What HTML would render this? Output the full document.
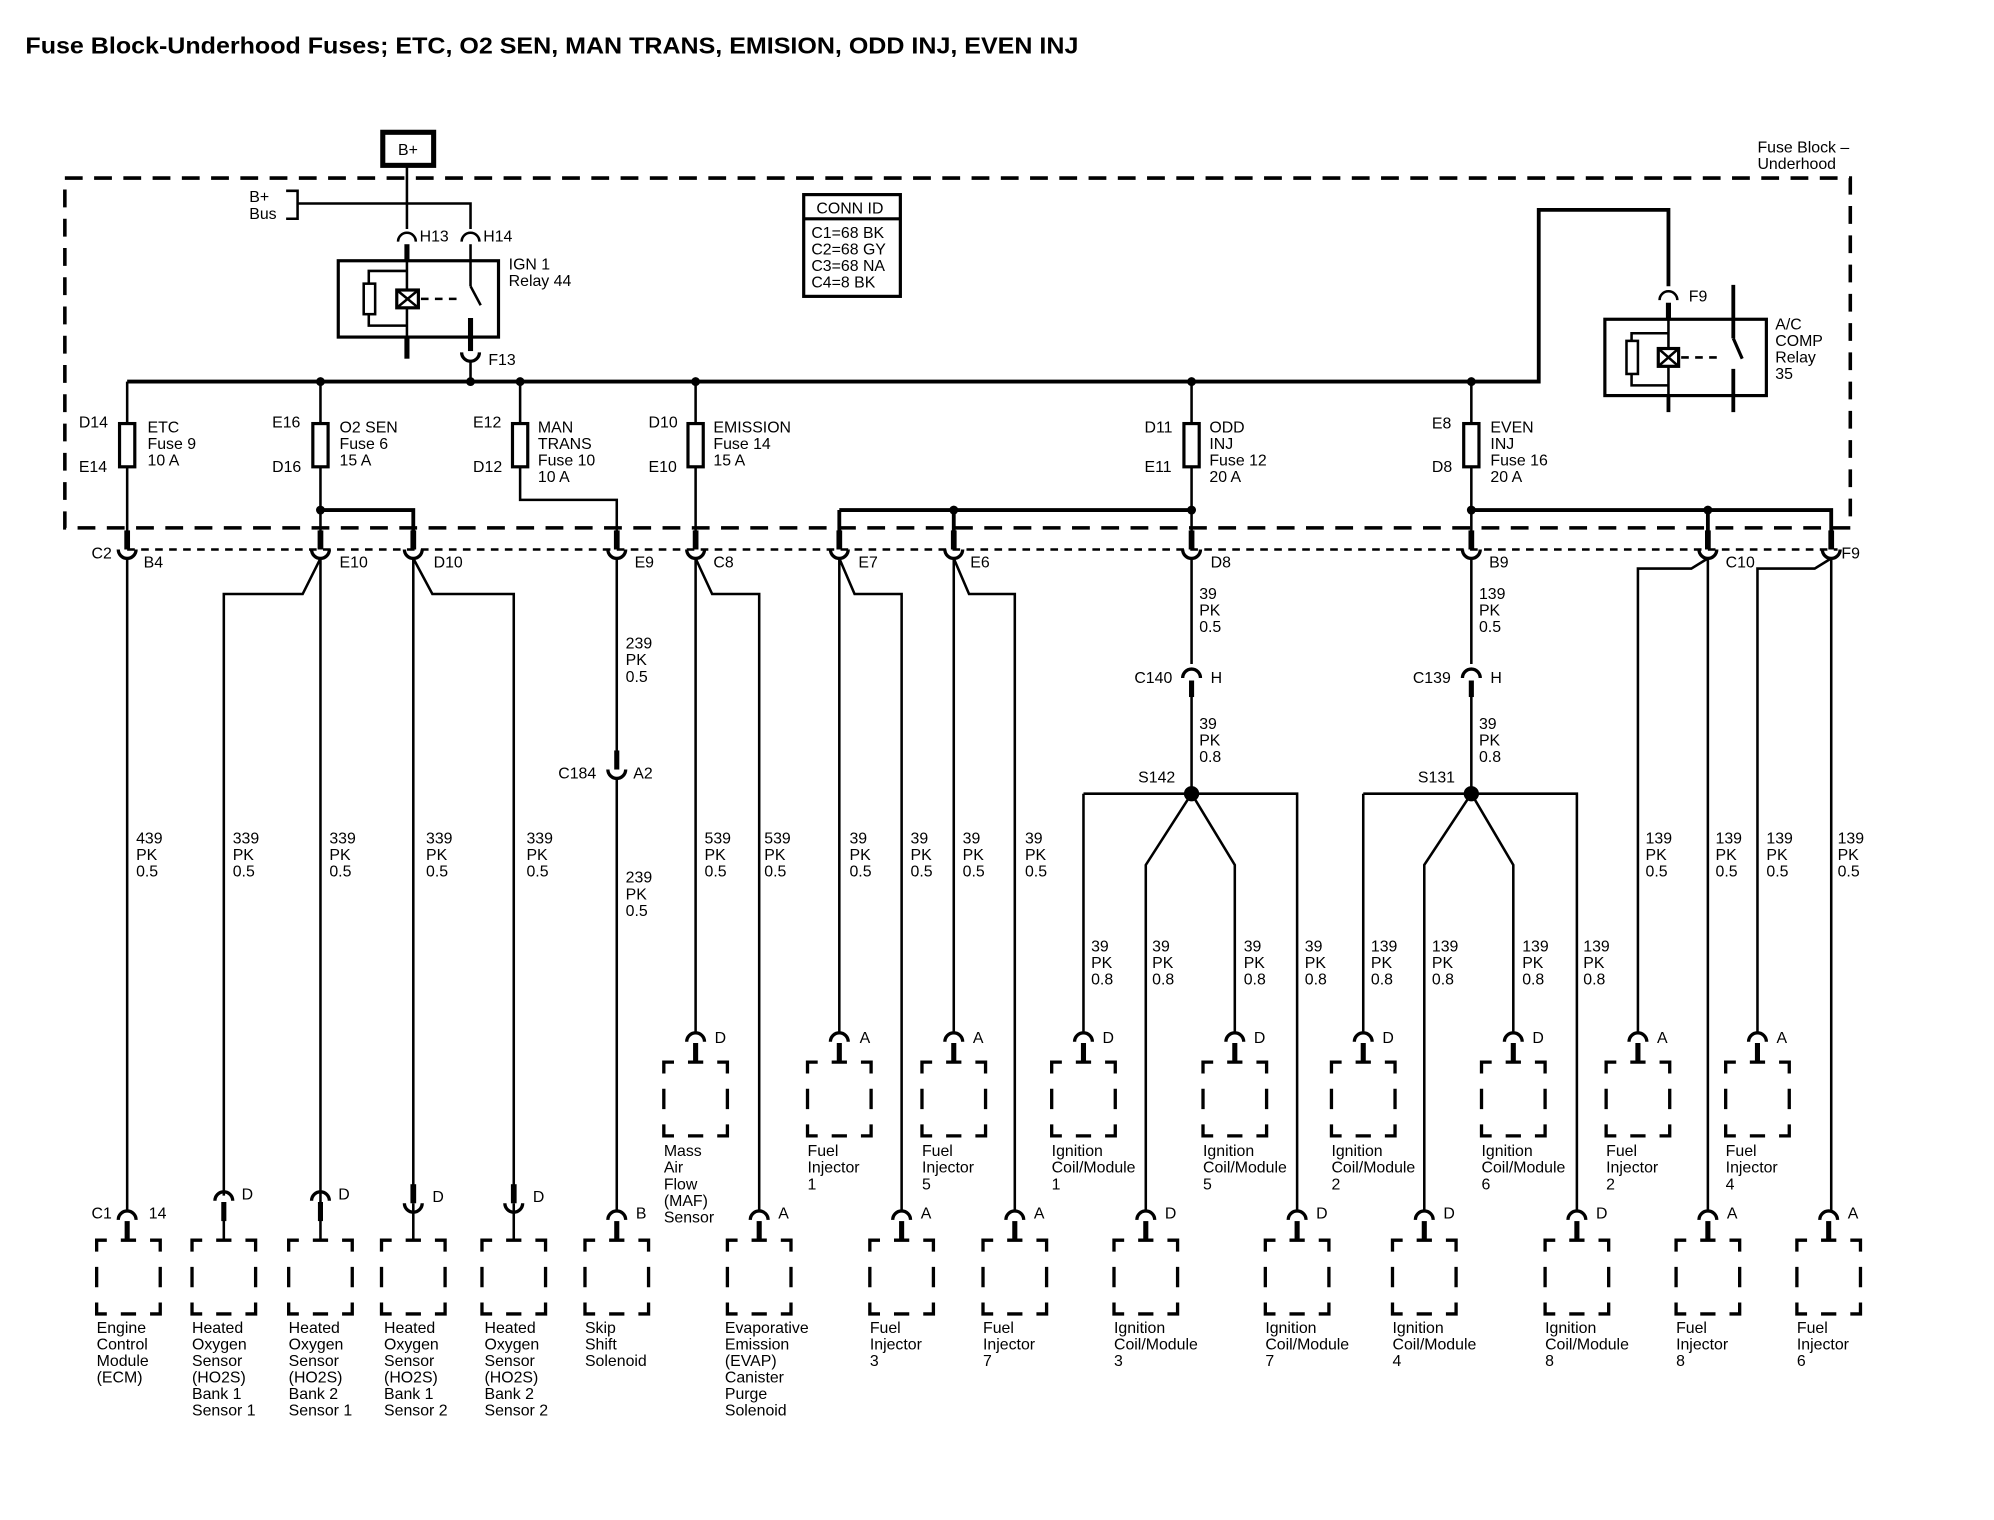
<!DOCTYPE html>
<html><head><meta charset="utf-8"><style>
html,body{margin:0;padding:0;background:#fff;}
svg{display:block;}
text{font-family:"Liberation Sans",sans-serif;font-size:12.5px;fill:#000;}
</style></head><body>
<svg width="1994" height="1520" viewBox="0 0 1568 1195" preserveAspectRatio="none" xmlns="http://www.w3.org/2000/svg">
<defs>
<symbol id="bx" overflow="visible"><path d="M0,9V0H8M19,0H31M42,0H50V9M0,21V37M50,21V37M0,49V58H8M19,58H31M42,58H50V49" fill="none" stroke="#000" stroke-width="2.6"/></symbol>
<symbol id="ca" overflow="visible"><path d="M-7,7A7,7 0 0 1 7,7" fill="none" stroke="#000" stroke-width="2.6"/><line x1="0" y1="8" x2="0" y2="23" stroke="#000" stroke-width="4"/></symbol>
<symbol id="cu" overflow="visible"><path d="M-7,0A7,7 0 0 0 7,0" fill="none" stroke="#000" stroke-width="2.6"/><line x1="0" y1="-15" x2="0" y2="0" stroke="#000" stroke-width="4.5"/></symbol>
</defs>
<text x="20" y="42" font-weight="bold" style="font-size:18px" textLength="828" lengthAdjust="spacingAndGlyphs">Fuse Block-Underhood Fuses; ETC, O2 SEN, MAN TRANS, EMISION, ODD INJ, EVEN INJ</text>

<g stroke="#000" fill="none" stroke-width="2">
<rect x="51" y="140" width="1404" height="275" stroke-width="2.8" stroke-dasharray="14 9"/>
<rect x="301" y="104" width="40" height="26" stroke-width="4"/>
<path d="M225,150H234V172H225M234,160H370V180M320,130V180"/>
<path d="M313,190A7,7 0 0 1 327,190M363,190A7,7 0 0 1 377,190"/>
<line x1="320" y1="192" x2="320" y2="206" stroke-width="4"/>
<line x1="370" y1="192" x2="370" y2="225" stroke-width="2"/>
<rect x="266" y="205" width="126" height="60" stroke-width="2.5"/>
<path d="M320,206V264M320,213H290V256H320"/>
<rect x="286" y="223" width="9" height="24" stroke-width="2" fill="#fff"/>
<rect x="312" y="228" width="17" height="14" stroke-width="2.5" fill="#fff"/>
<path d="M312,228L329,242M329,228L312,242" stroke-width="2"/>
<path d="M331,235H360" stroke-dasharray="6 5"/>
<path d="M370,225L378,240"/>
<line x1="320" y1="264" x2="320" y2="282" stroke-width="4"/>
<line x1="370" y1="250" x2="370" y2="276" stroke-width="4"/>
<path d="M363,277A7,7 0 0 0 377,277" stroke-width="2.6"/>
<path d="M370,284V300"/>
<path d="M100,300H1210V165H1312V225" stroke-width="3"/>
<circle cx="252" cy="300" r="2.5" fill="#000"/><circle cx="370" cy="300" r="2.5" fill="#000"/><circle cx="409" cy="300" r="2.5" fill="#000"/><circle cx="547" cy="300" r="2.5" fill="#000"/><circle cx="937" cy="300" r="2.5" fill="#000"/><circle cx="1157" cy="300" r="2.5" fill="#000"/>
<path d="M1305,236A7,7 0 0 1 1319,236"/>
<line x1="1312" y1="238" x2="1312" y2="252" stroke-width="4"/>
<rect x="1262" y="251" width="127" height="60" stroke-width="2.5"/>
<path d="M1312,252V322M1312,262H1283V303H1312"/>
<rect x="1279" y="268" width="9" height="26" fill="#fff"/>
<rect x="1304" y="274" width="16" height="14" stroke-width="2.5" fill="#fff"/>
<path d="M1304,274L1320,288M1320,274L1304,288"/>
<path d="M1322,281H1355" stroke-dasharray="6 5"/>
<line x1="1363" y1="224" x2="1363" y2="266" stroke-width="3"/><path d="M1363,266L1370,282" stroke-width="2.5"/>
<line x1="1363" y1="290" x2="1363" y2="324" stroke-width="3"/>
<line x1="1312" y1="311" x2="1312" y2="324" stroke-width="3"/>
<rect x="632" y="153" width="76" height="80" stroke-width="2.5"/><line x1="632" y1="172" x2="708" y2="172" stroke-width="2.5"/>
<path d="M100,300V430M252,300V430M409,300V393H485V430M547,300V430M937,300V430M1157,300V430"/>
<path d="M252,401H325V430M660,401H937M1157,401H1440V430M660,401V430M750,401V430M1343,401V430" stroke-width="3"/>
<circle cx="252" cy="401" r="2.5" fill="#000"/><circle cx="750" cy="401" r="2.5" fill="#000"/><circle cx="937" cy="401" r="2.5" fill="#000"/><circle cx="1157" cy="401" r="2.5" fill="#000"/><circle cx="1343" cy="401" r="2.5" fill="#000"/>
<g fill="#fff" stroke-width="2.5">
<rect x="94" y="333" width="12" height="34"/><rect x="246" y="333" width="12" height="34"/><rect x="403" y="333" width="12" height="34"/><rect x="541" y="333" width="12" height="34"/><rect x="931" y="333" width="12" height="34"/><rect x="1151" y="333" width="12" height="34"/>
</g>
<line x1="100" y1="432" x2="1445" y2="432" stroke-dasharray="6 5"/>
<path d="M100,439V952"/>
<path d="M252,439L238,467H176V940M252,439V945"/>
<path d="M325,439V935M325,439L340,467H404V935"/>
<path d="M485,439V590M485,612V952"/>
<path d="M547,439V812M547,439L560,467H597V952"/>
<path d="M660,439V812M660,439L672,467H709V952"/>
<path d="M750,439V812M750,439L762,467H798V952"/>
<path d="M937,439V522M937,540V624M852,624H1020V952M852,624V812M937,624L901,680V952M937,624L971,680V812"/>
<path d="M1157,439V522M1157,540V624M1072,624H1240V952M1072,624V812M1157,624L1120,680V952M1157,624L1190,680V812"/>
<path d="M1343,439V952M1343,439L1330,447H1288V812"/>
<path d="M1440,439V952M1440,439L1427,447H1382V812"/>
<circle cx="937" cy="624" r="5" fill="#000"/><circle cx="1157" cy="624" r="5" fill="#000"/>
<path d="M930,533A7,7 0 0 1 944,533M1150,533A7,7 0 0 1 1164,533" stroke-width="2.6"/>
<line x1="937" y1="535" x2="937" y2="548" stroke-width="4"/><line x1="1157" y1="535" x2="1157" y2="548" stroke-width="4"/>
<path d="M478,605A7,7 0 0 0 492,605" stroke-width="2.6"/><line x1="485" y1="590" x2="485" y2="605" stroke-width="4"/>
</g>
<use href="#cu" x="100" y="432"/><use href="#cu" x="252" y="432"/><use href="#cu" x="325" y="432"/><use href="#cu" x="485" y="432"/><use href="#cu" x="547" y="432"/><use href="#cu" x="660" y="432"/><use href="#cu" x="750" y="432"/><use href="#cu" x="937" y="432"/><use href="#cu" x="1157" y="432"/><use href="#cu" x="1343" y="432"/><use href="#cu" x="1440" y="432"/>
<g>
<use href="#ca" x="547" y="812"/><use href="#bx" x="522" y="835"/>
<use href="#ca" x="660" y="812"/><use href="#bx" x="635" y="835"/>
<use href="#ca" x="750" y="812"/><use href="#bx" x="725" y="835"/>
<use href="#ca" x="852" y="812"/><use href="#bx" x="827" y="835"/>
<use href="#ca" x="971" y="812"/><use href="#bx" x="946" y="835"/>
<use href="#ca" x="1072" y="812"/><use href="#bx" x="1047" y="835"/>
<use href="#ca" x="1190" y="812"/><use href="#bx" x="1165" y="835"/>
<use href="#ca" x="1288" y="812"/><use href="#bx" x="1263" y="835"/>
<use href="#ca" x="1382" y="812"/><use href="#bx" x="1357" y="835"/>
</g>
<g>
<use href="#ca" x="100" y="952"/><use href="#bx" x="76" y="975"/>
<use href="#ca" x="176" y="937"/><use href="#bx" x="151" y="975"/>
<use href="#ca" x="252" y="937"/><use href="#bx" x="227" y="975"/>
<use href="#cu" x="325" y="946"/><use href="#bx" x="300" y="975"/>
<use href="#cu" x="404" y="946"/><use href="#bx" x="379" y="975"/>
<use href="#ca" x="485" y="952"/><use href="#bx" x="460" y="975"/>
<use href="#ca" x="597" y="952"/><use href="#bx" x="572" y="975"/>
<use href="#ca" x="709" y="952"/><use href="#bx" x="684" y="975"/>
<use href="#ca" x="798" y="952"/><use href="#bx" x="773" y="975"/>
<use href="#ca" x="901" y="952"/><use href="#bx" x="876" y="975"/>
<use href="#ca" x="1020" y="952"/><use href="#bx" x="995" y="975"/>
<use href="#ca" x="1120" y="952"/><use href="#bx" x="1095" y="975"/>
<use href="#ca" x="1240" y="952"/><use href="#bx" x="1215" y="975"/>
<use href="#ca" x="1343" y="952"/><use href="#bx" x="1318" y="975"/>
<use href="#ca" x="1438" y="952"/><use href="#bx" x="1413" y="975"/>
</g>
<g stroke="#000" stroke-width="2"><path d="M176,952V975M252,952V975M325,946V975M404,946V975"/></g>

<text x="313" y="122">B+</text>
<text x="1382" y="120">Fuse Block –</text><text x="1382" y="133">Underhood</text>
<text x="196" y="159">B+</text><text x="196" y="172">Bus</text>
<text x="330" y="190">H13</text><text x="380" y="190">H14</text>
<text x="400" y="212">IGN 1</text><text x="400" y="225">Relay 44</text>
<text x="384" y="287">F13</text>
<text x="642" y="168">CONN ID</text>
<text x="638" y="187">C1=68 BK</text><text x="638" y="200">C2=68 GY</text><text x="638" y="213">C3=68 NA</text><text x="638" y="226">C4=8 BK</text>
<text x="1328" y="237">F9</text>
<text x="1396" y="259">A/C</text><text x="1396" y="272">COMP</text><text x="1396" y="285">Relay</text><text x="1396" y="298">35</text>
<text x="62" y="336">D14</text><text x="62" y="371">E14</text><text x="116" y="340">ETC</text><text x="116" y="353">Fuse 9</text><text x="116" y="366">10 A</text>
<text x="214" y="336">E16</text><text x="214" y="371">D16</text><text x="267" y="340">O2 SEN</text><text x="267" y="353">Fuse 6</text><text x="267" y="366">15 A</text>
<text x="372" y="336">E12</text><text x="372" y="371">D12</text><text x="423" y="340">MAN</text><text x="423" y="353">TRANS</text><text x="423" y="366">Fuse 10</text><text x="423" y="379">10 A</text>
<text x="510" y="336">D10</text><text x="510" y="371">E10</text><text x="561" y="340">EMISSION</text><text x="561" y="353">Fuse 14</text><text x="561" y="366">15 A</text>
<text x="900" y="340">D11</text><text x="900" y="371">E11</text><text x="951" y="340">ODD</text><text x="951" y="353">INJ</text><text x="951" y="366">Fuse 12</text><text x="951" y="379">20 A</text>
<text x="1126" y="337">E8</text><text x="1126" y="371">D8</text><text x="1172" y="340">EVEN</text><text x="1172" y="353">INJ</text><text x="1172" y="366">Fuse 16</text><text x="1172" y="379">20 A</text>
<text x="72" y="439">C2</text><text x="113" y="446">B4</text><text x="267" y="446">E10</text><text x="341" y="446">D10</text><text x="499" y="446">E9</text><text x="561" y="446">C8</text><text x="675" y="446">E7</text><text x="763" y="446">E6</text><text x="952" y="446">D8</text><text x="1171" y="446">B9</text><text x="1357" y="446">C10</text><text x="1448" y="439">F9</text>
<text x="892" y="537">C140</text><text x="952" y="537">H</text><text x="1111" y="537">C139</text><text x="1172" y="537">H</text>
<text x="439" y="612">C184</text><text x="498" y="612">A2</text>
<text x="895" y="615">S142</text><text x="1115" y="615">S131</text>
<g>
<text x="943" y="471">39</text><text x="943" y="484">PK</text><text x="943" y="497">0.5</text>
<text x="1163" y="471">139</text><text x="1163" y="484">PK</text><text x="1163" y="497">0.5</text>
<text x="943" y="573">39</text><text x="943" y="586">PK</text><text x="943" y="599">0.8</text>
<text x="1163" y="573">39</text><text x="1163" y="586">PK</text><text x="1163" y="599">0.8</text>
<text x="492" y="510">239</text><text x="492" y="523">PK</text><text x="492" y="536">0.5</text>
<text x="492" y="694">239</text><text x="492" y="707">PK</text><text x="492" y="720">0.5</text>
<text x="107" y="663">439</text><text x="107" y="676">PK</text><text x="107" y="689">0.5</text>
<text x="183" y="663">339</text><text x="183" y="676">PK</text><text x="183" y="689">0.5</text>
<text x="259" y="663">339</text><text x="259" y="676">PK</text><text x="259" y="689">0.5</text>
<text x="335" y="663">339</text><text x="335" y="676">PK</text><text x="335" y="689">0.5</text>
<text x="414" y="663">339</text><text x="414" y="676">PK</text><text x="414" y="689">0.5</text>
<text x="554" y="663">539</text><text x="554" y="676">PK</text><text x="554" y="689">0.5</text>
<text x="601" y="663">539</text><text x="601" y="676">PK</text><text x="601" y="689">0.5</text>
<text x="668" y="663">39</text><text x="668" y="676">PK</text><text x="668" y="689">0.5</text>
<text x="716" y="663">39</text><text x="716" y="676">PK</text><text x="716" y="689">0.5</text>
<text x="757" y="663">39</text><text x="757" y="676">PK</text><text x="757" y="689">0.5</text>
<text x="806" y="663">39</text><text x="806" y="676">PK</text><text x="806" y="689">0.5</text>
<text x="1294" y="663">139</text><text x="1294" y="676">PK</text><text x="1294" y="689">0.5</text>
<text x="1349" y="663">139</text><text x="1349" y="676">PK</text><text x="1349" y="689">0.5</text>
<text x="1389" y="663">139</text><text x="1389" y="676">PK</text><text x="1389" y="689">0.5</text>
<text x="1445" y="663">139</text><text x="1445" y="676">PK</text><text x="1445" y="689">0.5</text>
<text x="858" y="748">39</text><text x="858" y="761">PK</text><text x="858" y="774">0.8</text>
<text x="906" y="748">39</text><text x="906" y="761">PK</text><text x="906" y="774">0.8</text>
<text x="978" y="748">39</text><text x="978" y="761">PK</text><text x="978" y="774">0.8</text>
<text x="1026" y="748">39</text><text x="1026" y="761">PK</text><text x="1026" y="774">0.8</text>
<text x="1078" y="748">139</text><text x="1078" y="761">PK</text><text x="1078" y="774">0.8</text>
<text x="1126" y="748">139</text><text x="1126" y="761">PK</text><text x="1126" y="774">0.8</text>
<text x="1197" y="748">139</text><text x="1197" y="761">PK</text><text x="1197" y="774">0.8</text>
<text x="1245" y="748">139</text><text x="1245" y="761">PK</text><text x="1245" y="774">0.8</text>
</g>
<text x="562" y="820">D</text><text x="676" y="820">A</text><text x="765" y="820">A</text><text x="867" y="820">D</text><text x="986" y="820">D</text><text x="1087" y="820">D</text><text x="1205" y="820">D</text><text x="1303" y="820">A</text><text x="1397" y="820">A</text>
<text x="72" y="958">C1</text><text x="117" y="958">14</text>
<text x="190" y="943">D</text><text x="266" y="943">D</text><text x="340" y="945">D</text><text x="419" y="945">D</text>
<text x="500" y="958">B</text><text x="612" y="958">A</text><text x="724" y="958">A</text><text x="813" y="958">A</text><text x="916" y="958">D</text><text x="1035" y="958">D</text><text x="1135" y="958">D</text><text x="1255" y="958">D</text><text x="1358" y="958">A</text><text x="1453" y="958">A</text>
<text x="522" y="909">Mass</text><text x="522" y="922">Air</text><text x="522" y="935">Flow</text><text x="522" y="948">(MAF)</text><text x="522" y="961">Sensor</text>
<text x="635" y="909">Fuel</text><text x="635" y="922">Injector</text><text x="635" y="935">1</text>
<text x="725" y="909">Fuel</text><text x="725" y="922">Injector</text><text x="725" y="935">5</text>
<text x="827" y="909">Ignition</text><text x="827" y="922">Coil/Module</text><text x="827" y="935">1</text>
<text x="946" y="909">Ignition</text><text x="946" y="922">Coil/Module</text><text x="946" y="935">5</text>
<text x="1047" y="909">Ignition</text><text x="1047" y="922">Coil/Module</text><text x="1047" y="935">2</text>
<text x="1165" y="909">Ignition</text><text x="1165" y="922">Coil/Module</text><text x="1165" y="935">6</text>
<text x="1263" y="909">Fuel</text><text x="1263" y="922">Injector</text><text x="1263" y="935">2</text>
<text x="1357" y="909">Fuel</text><text x="1357" y="922">Injector</text><text x="1357" y="935">4</text>
<text x="76" y="1048">Engine</text><text x="76" y="1061">Control</text><text x="76" y="1074">Module</text><text x="76" y="1087">(ECM)</text>
<text x="151" y="1048">Heated</text><text x="151" y="1061">Oxygen</text><text x="151" y="1074">Sensor</text><text x="151" y="1087">(HO2S)</text><text x="151" y="1100">Bank 1</text><text x="151" y="1113">Sensor 1</text>
<text x="227" y="1048">Heated</text><text x="227" y="1061">Oxygen</text><text x="227" y="1074">Sensor</text><text x="227" y="1087">(HO2S)</text><text x="227" y="1100">Bank 2</text><text x="227" y="1113">Sensor 1</text>
<text x="302" y="1048">Heated</text><text x="302" y="1061">Oxygen</text><text x="302" y="1074">Sensor</text><text x="302" y="1087">(HO2S)</text><text x="302" y="1100">Bank 1</text><text x="302" y="1113">Sensor 2</text>
<text x="381" y="1048">Heated</text><text x="381" y="1061">Oxygen</text><text x="381" y="1074">Sensor</text><text x="381" y="1087">(HO2S)</text><text x="381" y="1100">Bank 2</text><text x="381" y="1113">Sensor 2</text>
<text x="460" y="1048">Skip</text><text x="460" y="1061">Shift</text><text x="460" y="1074">Solenoid</text>
<text x="570" y="1048">Evaporative</text><text x="570" y="1061">Emission</text><text x="570" y="1074">(EVAP)</text><text x="570" y="1087">Canister</text><text x="570" y="1100">Purge</text><text x="570" y="1113">Solenoid</text>
<text x="684" y="1048">Fuel</text><text x="684" y="1061">Injector</text><text x="684" y="1074">3</text>
<text x="773" y="1048">Fuel</text><text x="773" y="1061">Injector</text><text x="773" y="1074">7</text>
<text x="876" y="1048">Ignition</text><text x="876" y="1061">Coil/Module</text><text x="876" y="1074">3</text>
<text x="995" y="1048">Ignition</text><text x="995" y="1061">Coil/Module</text><text x="995" y="1074">7</text>
<text x="1095" y="1048">Ignition</text><text x="1095" y="1061">Coil/Module</text><text x="1095" y="1074">4</text>
<text x="1215" y="1048">Ignition</text><text x="1215" y="1061">Coil/Module</text><text x="1215" y="1074">8</text>
<text x="1318" y="1048">Fuel</text><text x="1318" y="1061">Injector</text><text x="1318" y="1074">8</text>
<text x="1413" y="1048">Fuel</text><text x="1413" y="1061">Injector</text><text x="1413" y="1074">6</text>
</svg>
</body></html>
